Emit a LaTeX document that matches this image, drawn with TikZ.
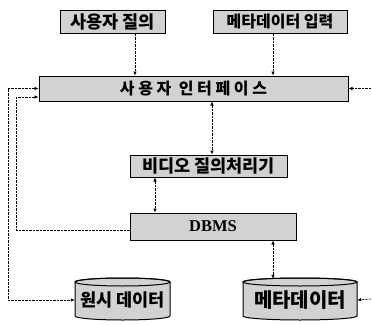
\documentclass[tikz,border=0pt]{standalone}
\usepackage{fontspec}
\newfontfamily\kr{Noto Sans CJK KR}
\newfontfamily\ser{Liberation Serif}
\usetikzlibrary{arrows.meta}
\begin{document}
\begin{tikzpicture}[x=1pt,y=-1pt,
  box/.style={draw=black, line width=1pt, fill=gray!35, inner sep=0pt},
  krfont/.style={font=\kr\bfseries\fontsize{#1}{#1}\selectfont},
  plain/.style={inner sep=0pt},
  con/.style={line width=0.6pt, dash pattern=on 2.5pt off 1pt, draw=black},
  tip/.style={con, -{Latex[length=4pt,width=3.5pt]}},
  tips/.style={con, {Latex[length=4pt,width=3.5pt]}-{Latex[length=4pt,width=3.5pt]}},
  cyl/.style={draw=black, line width=1pt, fill=gray!35}
]
\useasboundingbox (0,0) rectangle (372,324);

% boxes
\node[box, krfont=17.5, minimum width=105pt, minimum height=23pt] (q) at (112.5,21.5) {사용자 질의};
\node[box, krfont=16, minimum width=134pt, minimum height=23pt] (m) at (280,21.5) {메타데이터 입력};
\node[box, krfont=16, minimum width=309pt, minimum height=25pt] (ui) at (193.5,88.5) {사 용 자\ \ 인 터 페 이 스};
\node[box, krfont=17.5, minimum width=157pt, minimum height=22pt] (v) at (208.5,166) {비디오 질의처리기};
\node[box, font=\ser\bfseries\fontsize{16.5}{16.5}\selectfont, minimum width=166pt, minimum height=27pt] (d) at (213,226.5) {DBMS};

% cylinders
\filldraw[cyl] (75,282) -- (75,316) arc[start angle=180,end angle=360,x radius=47.5pt,y radius=4pt]
  -- (170,282) arc[start angle=0,end angle=180,x radius=47.5pt,y radius=4pt] -- cycle;
\draw[line width=1pt] (122.5,282) ellipse [x radius=47.5pt, y radius=4pt];
\node[plain, krfont=17.5, minimum width=95pt, minimum height=42pt] (raw) at (122.5,300) {원시 데이터};

\filldraw[cyl] (243,282) -- (243,316) arc[start angle=180,end angle=360,x radius=57pt,y radius=4pt]
  -- (357,282) arc[start angle=0,end angle=180,x radius=57pt,y radius=4pt] -- cycle;
\draw[line width=1pt] (300,282) ellipse [x radius=57pt, y radius=4pt];
\node[plain, krfont=20, minimum width=114pt, minimum height=42pt] (meta) at (300,300) {메타데이터};

% free ends
\coordinate (r1) at (371,88.5);
\coordinate (r2) at (371,299);
\coordinate (xin) at (16,0);
\coordinate (xout) at (8,0);

% connectors
\draw[tip] ([xshift=22.5pt]q.south) -- ([xshift=22.5pt]q.south |- ui.north);
\draw[tip] ([xshift=-7pt]m.south) -- ([xshift=-7pt]m.south |- ui.north);
\draw[tips] ([xshift=3.5pt]v.north |- ui.south) -- ([xshift=3.5pt]v.north);
\draw[tips] ([xshift=-53.5pt]v.south) -- ([xshift=-53.5pt]v.south |- d.north);
\draw[tips] ([xshift=60pt]d.south) -- ([xshift=60pt]d.south |- meta.north);
\draw[tip] (r1) -- (ui.east);
\draw[tip] (r2) -- (meta.east);
\draw[tip] ([yshift=-3.5pt]d.west) -- ([yshift=-3.5pt]d.west -| xin)
  -- ([yshift=-8.5pt]ui.west -| xin) -- ([yshift=-8.5pt]ui.west);
\draw[tips] (ui.west) -- (ui.west -| xout) -- (raw.west -| xout) -- (raw.west);
\end{tikzpicture}
\end{document}
